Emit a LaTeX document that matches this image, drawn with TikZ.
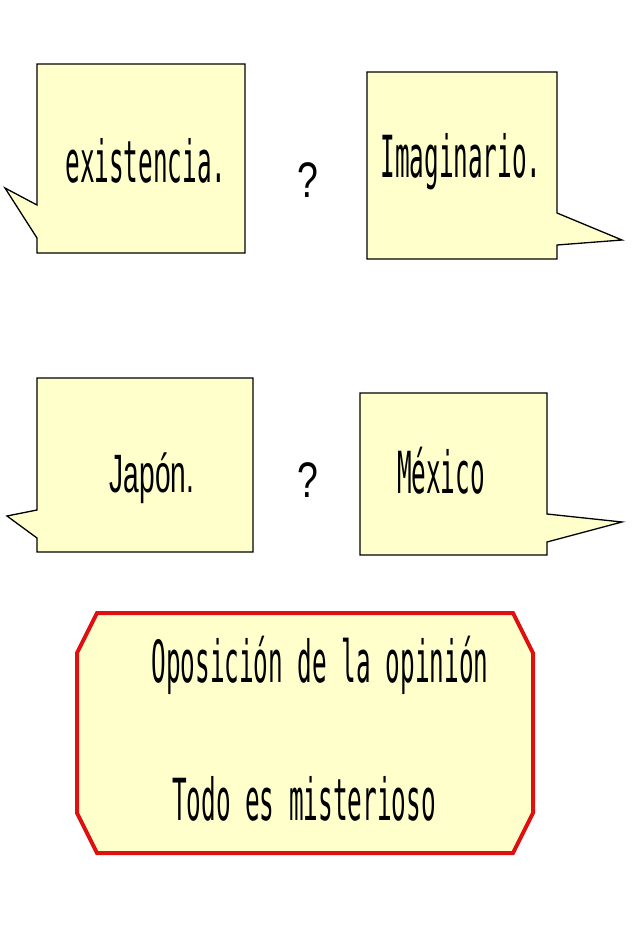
\documentclass[tikz,border=0pt]{standalone}
\usepackage{fontspec}
\usepackage{graphicx}
\usetikzlibrary{positioning}
\newfontfamily\gothmono{DejaVu Sans Mono}
\newfontfamily\gothsans{Liberation Sans}
\definecolor{NoteFill}{HTML}{FFFFCC}
\definecolor{FrameRed}{HTML}{E01010}
\newcommand{\narrow}[1]{\scalebox{0.42}[1]{#1}}

\begin{document}
\begin{tikzpicture}[
        x=1pt, y=-1pt,
        callout/.style={draw=black, fill=NoteFill, line width=1.3pt, line join=miter},
        frame/.style={draw=FrameRed, fill=NoteFill, line width=4pt, line join=miter},
        wordtext/.style={anchor=base, inner sep=0pt, font=\gothmono\fontsize{58}{60}\selectfont},
        asktext/.style={anchor=base, inner sep=0pt, font=\gothsans\fontsize{50}{52}\selectfont}
    ]
        \useasboundingbox (0,0) rectangle (640,927);
        \fill[white] (0,0) rectangle (640,927);

        % top pair of callouts
        \draw[callout] (37,64) -- (245,64) -- (245,253) -- (37,253) -- (37,238)
            -- (5,188) -- (37,205) -- cycle;
        \draw[callout] (367,72) -- (557,72) -- (557,213) -- (622,240) -- (557,245)
            -- (557,259) -- (367,259) -- cycle;

        % bottom pair of callouts
        \draw[callout] (37,378) -- (253,378) -- (253,552) -- (37,552) -- (37,538)
            -- (7,516) -- (37,510) -- cycle;
        \draw[callout] (360,393) -- (547,393) -- (547,514) -- (622,522) -- (547,542)
            -- (547,555) -- (360,555) -- cycle;

        % conclusion frame
        \draw[frame] (97,613) -- (513,613) -- (533,653) -- (533,813) -- (513,853)
            -- (97,853) -- (77,813) -- (77,653) -- cycle;

        \node[wordtext] (existencia) at (146,182) {\narrow{existencia.}};
        \node[wordtext] (imaginario) at (461,177) {\narrow{Imaginario.}};
        \node[asktext] (askTop) at (308,197) {\scalebox{0.75}[1]{?}};

        \node[asktext] (japon) at (152,492) {\scalebox{0.52}[1]{\fontsize{54}{56}\selectfont Japón.}};
        \node[wordtext] (mexico) at (441,493) {\narrow{México}};
        \node[asktext] (askBottom) at (308,497) {\scalebox{0.75}[1]{?}};

        \node[wordtext] (oposicion) at (320,682) {\narrow{Oposición de la opinión}};
        \node[wordtext] (misterio) at (304,820) {\narrow{Todo es misterioso}};
    \end{tikzpicture}
\end{document}
